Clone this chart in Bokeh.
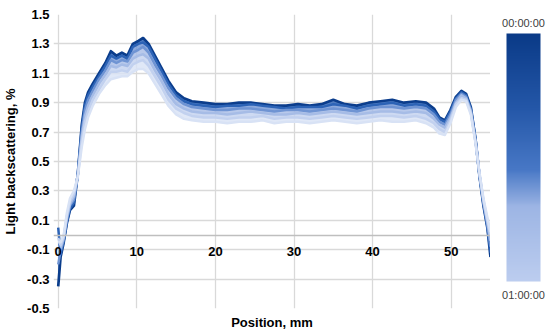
import numpy as np
from bokeh.plotting import figure
from bokeh.layouts import row
from bokeh.core.properties import value
from bokeh.models import FixedTicker, LinearAxis, LinearColorMapper, Range1d, PrintfTickFormatter
from bokeh.embed import file_html
from bokeh.resources import INLINE

# ---------------- data ----------------
POSITION_MM = [0.0, 0.3, 0.7, 1.1, 1.5, 2.0, 2.5, 3.0, 3.4, 3.8,
               4.4, 5.2, 6.0, 6.7, 7.4, 8.1, 8.8, 9.5, 10.2, 10.8,
               11.5, 12.3, 13.1, 14.0, 15.0, 16.0, 17.0, 18.5, 20.0, 21.5,
               23.0, 24.5, 26.0, 27.5, 29.0, 30.5, 32.0, 33.5, 35.0, 36.5,
               38.0, 39.5, 41.0, 42.5, 44.0, 45.5, 46.8, 47.8, 48.5, 49.2,
               49.9, 50.6, 51.3, 51.9, 52.5, 53.1, 53.6, 54.1, 54.6, 55.0]

BS_T00 = [-0.35, -0.15, -0.05, 0.08, 0.17, 0.20, 0.42, 0.75, 0.90, 0.97,
          1.03, 1.10, 1.17, 1.25, 1.22, 1.24, 1.22, 1.30, 1.32, 1.34,
          1.30, 1.22, 1.14, 1.05, 0.97, 0.93, 0.91, 0.90, 0.89, 0.89,
          0.90, 0.90, 0.89, 0.88, 0.88, 0.89, 0.88, 0.89, 0.92, 0.89,
          0.88, 0.90, 0.91, 0.92, 0.90, 0.91, 0.90, 0.86, 0.80, 0.78,
          0.85, 0.94, 0.98, 0.96, 0.87, 0.65, 0.40, 0.20, 0.05, -0.15]
BS_T12 = [0.05, -0.13, -0.04, 0.09, 0.18, 0.22, 0.42, 0.73, 0.88, 0.95,
          1.01, 1.08, 1.15, 1.22, 1.20, 1.22, 1.20, 1.28, 1.30, 1.31,
          1.28, 1.20, 1.12, 1.03, 0.95, 0.91, 0.89, 0.88, 0.87, 0.88,
          0.88, 0.89, 0.88, 0.87, 0.86, 0.87, 0.87, 0.87, 0.89, 0.88,
          0.86, 0.88, 0.89, 0.90, 0.88, 0.89, 0.88, 0.84, 0.79, 0.77,
          0.84, 0.93, 0.97, 0.95, 0.86, 0.65, 0.40, 0.21, 0.06, -0.12]
BS_T24 = [-0.20, -0.11, -0.03, 0.10, 0.20, 0.24, 0.41, 0.70, 0.85, 0.92,
          0.98, 1.06, 1.12, 1.19, 1.17, 1.19, 1.18, 1.24, 1.26, 1.28,
          1.24, 1.16, 1.09, 1.00, 0.93, 0.89, 0.87, 0.86, 0.85, 0.85,
          0.86, 0.86, 0.85, 0.84, 0.85, 0.85, 0.84, 0.85, 0.86, 0.85,
          0.84, 0.86, 0.87, 0.87, 0.86, 0.87, 0.86, 0.82, 0.77, 0.75,
          0.82, 0.92, 0.96, 0.94, 0.85, 0.64, 0.41, 0.22, 0.07, -0.08]
BS_T36 = [-0.10, -0.09, -0.02, 0.12, 0.21, 0.26, 0.41, 0.67, 0.81, 0.88,
          0.95, 1.03, 1.09, 1.15, 1.14, 1.16, 1.15, 1.20, 1.22, 1.23,
          1.20, 1.12, 1.05, 0.96, 0.89, 0.86, 0.84, 0.83, 0.83, 0.82,
          0.83, 0.84, 0.83, 0.82, 0.82, 0.83, 0.82, 0.83, 0.84, 0.83,
          0.82, 0.83, 0.84, 0.84, 0.83, 0.84, 0.83, 0.79, 0.75, 0.73,
          0.80, 0.90, 0.95, 0.93, 0.84, 0.63, 0.41, 0.23, 0.09, -0.04]
BS_T48 = [-0.02, -0.07, -0.01, 0.13, 0.23, 0.28, 0.40, 0.64, 0.77, 0.84,
          0.92, 0.99, 1.06, 1.11, 1.11, 1.12, 1.11, 1.16, 1.18, 1.19,
          1.15, 1.08, 1.01, 0.92, 0.86, 0.83, 0.81, 0.80, 0.80, 0.79,
          0.80, 0.80, 0.81, 0.79, 0.80, 0.80, 0.79, 0.80, 0.81, 0.80,
          0.79, 0.80, 0.81, 0.81, 0.80, 0.81, 0.79, 0.76, 0.72, 0.70,
          0.78, 0.89, 0.93, 0.92, 0.83, 0.63, 0.42, 0.24, 0.10, 0.00]
BS_T60 = [-0.05, -0.05, 0.00, 0.15, 0.25, 0.30, 0.40, 0.60, 0.72, 0.80,
          0.88, 0.96, 1.02, 1.06, 1.07, 1.08, 1.08, 1.11, 1.13, 1.13,
          1.10, 1.03, 0.96, 0.88, 0.82, 0.79, 0.78, 0.77, 0.77, 0.76,
          0.77, 0.77, 0.78, 0.76, 0.77, 0.77, 0.76, 0.77, 0.78, 0.77,
          0.76, 0.77, 0.78, 0.77, 0.77, 0.78, 0.76, 0.73, 0.69, 0.68,
          0.76, 0.87, 0.92, 0.91, 0.82, 0.62, 0.42, 0.25, 0.12, 0.02]

CURVES = [BS_T00, BS_T12, BS_T24, BS_T36, BS_T48, BS_T60]
TIMES_MIN = [0, 12, 24, 36, 48, 60]
TIME_LABELS = ["00:00:00", "01:00:00"]
X_TICKS = [0, 10, 20, 30, 40, 50]
Y_TICKS = [-0.5, -0.3, -0.1, 0.1, 0.3, 0.5, 0.7, 0.9, 1.1, 1.3, 1.5]

# ---------------- colours ----------------
STOP_POS = [0.0, 0.3, 0.55, 0.7, 1.0]
STOP_COL = ["#0a3a87", "#2457a8", "#4878c6", "#9db5e4", "#bccdef"]
CURVE_COLORS = ["#0b3d8c", "#2c63b6", "#6f94d3", "#a6bce6", "#c2d1ef", "#d8e2f5"]


def _rgb(h):
    return [int(h[i:i + 2], 16) for i in (1, 3, 5)]


PALETTE = []
for k in range(256):
    t = k / 255
    c = [int(round(np.interp(t, STOP_POS, [_rgb(s)[i] for s in STOP_COL]))) for i in range(3)]
    PALETTE.append("#%02x%02x%02x" % tuple(c))

t_max = TIMES_MIN[-1]

FONT = "Liberation Sans"
GRID = "#d9d9d9"
FRAME_H = 294
TOP = 14
BOTTOM = 23

# ---------------- main plot ----------------
p = figure(title=None, frame_width=437, frame_height=FRAME_H,
           x_range=Range1d(-0.6, 55), y_range=Range1d(-0.5, 1.5),
           output_backend="svg", toolbar_location=None,
           min_border_left=0, min_border_right=0, min_border_top=TOP, min_border_bottom=BOTTOM)
p.outline_line_color = None
p.background_fill_color = "white"

p.xgrid.ticker = FixedTicker(ticks=X_TICKS)
p.ygrid.ticker = FixedTicker(ticks=Y_TICKS[:-1])
p.grid.grid_line_color = GRID
p.grid.grid_line_width = 1.3

xa = p.xaxis[0]
xa.fixed_location = 0
xa.ticker = FixedTicker(ticks=X_TICKS)
xa.axis_line_color = "#bfbfbf"
xa.axis_line_width = 1.5
xa.major_tick_line_color = None
xa.minor_tick_line_color = None
xa.major_tick_out = 0
xa.major_tick_in = 0
xa.minor_tick_out = 0
xa.major_label_text_font = FONT
xa.major_label_text_font_style = "bold"
xa.major_label_text_font_size = "13px"
xa.major_label_text_color = "#000000"
xa.major_label_standoff = 12

ya = p.yaxis[0]
ya.ticker = FixedTicker(ticks=Y_TICKS)
ya.formatter = PrintfTickFormatter(format="%.1f")
ya.axis_line_color = None
ya.major_tick_line_color = None
ya.minor_tick_line_color = None
ya.major_tick_out = 0
ya.major_tick_in = 0
ya.minor_tick_out = 0
ya.major_label_text_font = FONT
ya.major_label_text_font_style = "bold"
ya.major_label_text_font_size = "13px"
ya.major_label_text_color = "#000000"
ya.major_label_standoff = 4
ya.axis_label = "Light backscattering, %"
ya.axis_label_text_font = FONT
ya.axis_label_text_font_style = "bold"
ya.axis_label_text_font_size = "13px"
ya.axis_label_text_color = "#000000"
ya.axis_label_standoff = 6

title_axis = LinearAxis(ticker=FixedTicker(ticks=[]), axis_label="Position, mm",
                        axis_line_color=None, major_tick_line_color=None,
                        minor_tick_line_color=None, major_tick_out=0, major_tick_in=0,
                        minor_tick_out=0,
                        axis_label_text_font=FONT, axis_label_text_font_style="bold",
                        axis_label_text_font_size="13px", axis_label_text_color="#000000",
                        axis_label_standoff=6)
p.add_layout(title_axis, "below")

for i in range(len(CURVES) - 1):
    p.varea(x=POSITION_MM, y1=CURVES[i], y2=CURVES[i + 1],
            fill_color=CURVE_COLORS[i + 1], fill_alpha=0.8)
for i, (ys, col) in enumerate(zip(CURVES, CURVE_COLORS)):
    p.line(POSITION_MM, ys, line_color=col, line_width=2.7 if i == 0 else 2.5,
           line_join="round")

# ---------------- colour scale (separate small figure) ----------------
BAR_W, BAR_H = 34, 248
BAR_LEFT, BAR_RIGHT_PAD = 16, 7
BAR_TOP_GAP = 19               # px between frame top and the bar
BAR_BOTTOM_GAP = FRAME_H - BAR_H - BAR_TOP_GAP
PX = t_max / BAR_H             # minutes per pixel along the bar
PXX = 1.0 / BAR_W              # bar-widths per pixel

grad = np.linspace(t_max, TIMES_MIN[0], 256).reshape(256, 1)
mapper = LinearColorMapper(palette=PALETTE, low=TIMES_MIN[0], high=t_max)

q = figure(title=None, frame_width=BAR_LEFT + BAR_W + BAR_RIGHT_PAD, frame_height=FRAME_H,
           x_range=Range1d(-BAR_LEFT * PXX, 1 + BAR_RIGHT_PAD * PXX),
           y_range=Range1d(-BAR_BOTTOM_GAP * PX, t_max + BAR_TOP_GAP * PX),
           x_axis_location=None, y_axis_location=None,
           output_backend="svg", toolbar_location=None,
           min_border_left=0, min_border_right=0, min_border_top=TOP, min_border_bottom=BOTTOM)
q.outline_line_color = None
q.grid.visible = False
q.image(image=[grad], x=0, y=TIMES_MIN[0], dw=1, dh=t_max, color_mapper=mapper)
q.text(x=[0.5, 0.5], y=[t_max + 10.5 * PX, TIMES_MIN[0] - 13 * PX], text=TIME_LABELS,
       text_font=value(FONT), text_font_size="11px", text_color="#404040",
       text_align="center", text_baseline="middle")

layout = row(p, q)
open("out.html", "w").write(file_html(layout, INLINE))
